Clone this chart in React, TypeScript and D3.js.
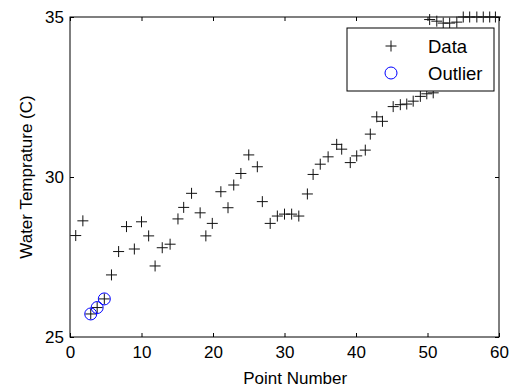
import React, { useEffect, useRef } from 'react';
import * as d3 from 'd3';

// values
const pointNumber = [
  0.8, 1.8, 2.9, 3.8, 4.8, 5.8, 6.8, 7.9, 9.0, 10.0, 11.0, 11.9, 12.9, 14.0, 15.1, 15.9, 17.0, 18.2, 19.0, 19.9,
  21.1, 22.1, 22.9, 23.9, 25.0, 26.2, 26.9, 28.0, 29.0, 30.0, 31.0, 32.0, 33.2, 34.0, 35.0, 36.1, 37.3, 38.0, 39.2, 40.1,
  41.3, 42.0, 42.9, 43.7, 45.2, 46.2, 47.1, 48.0, 49.0, 49.9, 50.8, 50.3, 51.3, 52.2, 53.1, 54.1, 55.0, 55.9, 56.9, 57.8,
  58.7, 59.5,
];
const waterTemp = [
  28.17, 28.63, 25.72, 25.92, 26.19, 26.94, 27.67, 28.45, 27.75, 28.6, 28.16, 27.22, 27.79, 27.9, 28.69, 29.05, 29.49,
  28.88, 28.16, 28.55, 29.54, 29.04, 29.75, 30.11, 30.69, 30.32, 29.23, 28.55, 28.78, 28.84, 28.84, 28.78, 29.47, 30.08,
  30.4, 30.63, 31.02, 30.87, 30.45, 30.66, 30.84, 31.34, 31.88, 31.74, 32.2, 32.26, 32.28, 32.37, 32.52, 32.6, 32.63,
  34.92, 34.87, 34.81, 34.81, 34.84, 35.0, 35.0, 35.0, 35.0, 35.0, 35.0,
];
const outlierNumber = [2.9, 3.8, 4.8];
const outlierTemp = [25.72, 25.92, 26.19];
const xTicks = [0, 10, 20, 30, 40, 50, 60];
const yTicks = [25, 30, 35];
const legendLabels = ['Data', 'Outlier'];

const FONT = '"Liberation Sans", Arial, sans-serif';
const plus = 'M-5.5,0H5.5M0,-5.5V5.5';

const App = () => {
  const svgRef = useRef<SVGSVGElement>(null);

  useEffect(() => {
    const svg = d3.select(svgRef.current);
    svg.selectAll('*').remove();

    const margin = { top: 17, right: 14, bottom: 52, left: 70 };
    const width = 513 - margin.left - margin.right;
    const height = 389 - margin.top - margin.bottom;

    const x = d3.scaleLinear().domain([0, 60]).range([margin.left, margin.left + width]);
    const y = d3.scaleLinear().domain([25, 35]).range([margin.top + height, margin.top]);

    const style = (g) => {
      g.attr('font-family', FONT).attr('font-size', 17);
      g.select('.domain').remove();
      g.selectAll('line').attr('stroke', '#000');
      g.selectAll('text').attr('fill', '#000');
    };

    // axes, ticks pointing inwards like the original
    svg
      .append('g')
      .attr('transform', `translate(0,${margin.top + height})`)
      .call(d3.axisBottom(x).tickValues(xTicks).tickSizeInner(-4).tickSizeOuter(0).tickPadding(9))
      .call(style);
    svg
      .append('g')
      .attr('transform', `translate(0,${margin.top})`)
      .call(d3.axisTop(x).tickValues(xTicks).tickSizeInner(-4).tickSizeOuter(0).tickFormat(() => ''))
      .call(style);
    svg
      .append('g')
      .attr('transform', `translate(${margin.left},0)`)
      .call(d3.axisLeft(y).tickValues(yTicks).tickSizeInner(-4).tickSizeOuter(0).tickPadding(6))
      .call(style);
    svg
      .append('g')
      .attr('transform', `translate(${margin.left + width},0)`)
      .call(d3.axisRight(y).tickValues(yTicks).tickSizeInner(-4).tickSizeOuter(0).tickFormat(() => ''))
      .call(style);

    svg
      .append('rect')
      .attr('x', margin.left)
      .attr('y', margin.top)
      .attr('width', width)
      .attr('height', height)
      .attr('fill', 'none')
      .attr('stroke', '#000');

    // data markers
    svg
      .append('g')
      .selectAll('path')
      .data(pointNumber.map((p, i) => [p, waterTemp[i]]))
      .enter()
      .append('path')
      .attr('d', plus)
      .attr('transform', (d) => `translate(${x(d[0])},${y(d[1])})`)
      .attr('stroke', '#111')
      .attr('fill', 'none');

    svg
      .append('g')
      .selectAll('circle')
      .data(outlierNumber.map((p, i) => [p, outlierTemp[i]]))
      .enter()
      .append('circle')
      .attr('cx', (d) => x(d[0]))
      .attr('cy', (d) => y(d[1]))
      .attr('r', 6)
      .attr('fill', 'none')
      .attr('stroke', '#0000ff');

    // axis labels
    svg
      .append('text')
      .attr('x', x(31.5))
      .attr('y', 384)
      .attr('text-anchor', 'middle')
      .attr('font-family', FONT)
      .attr('font-size', 17)
      .text('Point Number');
    svg
      .append('text')
      .attr('transform', `translate(32,${y(30)}) rotate(-90)`)
      .attr('text-anchor', 'middle')
      .attr('font-family', FONT)
      .attr('font-size', 17)
      .text('Water Temprature (C)');

    // legend
    const legend = svg.append('g').attr('transform', 'translate(347,28)');
    legend.append('rect').attr('width', 147).attr('height', 63).attr('fill', '#fff').attr('stroke', '#000');
    legend.append('path').attr('d', plus).attr('transform', 'translate(44,18)').attr('stroke', '#111');
    legend.append('circle').attr('cx', 44).attr('cy', 45).attr('r', 6).attr('fill', 'none').attr('stroke', '#0000ff');
    legend
      .selectAll('.legendLabel')
      .data(legendLabels)
      .enter()
      .append('text')
      .attr('class', 'legendLabel')
      .attr('x', 81)
      .attr('y', (d, i) => 24.5 + i * 27)
      .attr('font-family', FONT)
      .attr('font-size', 18.5)
      .text((d) => d);
  }, []);

  return (
    <div style={{ position: 'absolute', left: 0, top: 0 }}>
      <svg ref={svgRef} width={513} height={389} style={{ display: 'block', background: '#fff' }} />
    </div>
  );
};

export default App;
